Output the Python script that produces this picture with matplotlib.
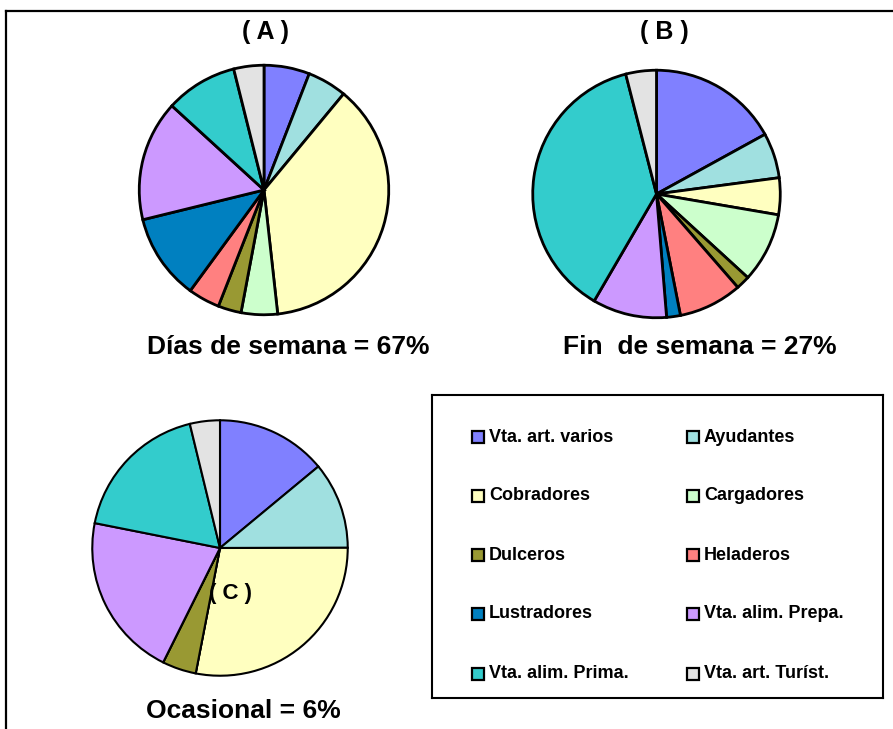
import matplotlib
matplotlib.use('Agg')
import matplotlib.pyplot as plt
from matplotlib.patches import Rectangle
from matplotlib.lines import Line2D

plt.rcParams['font.family'] = ['Liberation Sans', 'DejaVu Sans']
plt.rcParams['font.weight'] = 'bold'

# categorias y colores (orden de la leyenda)
categorias = ['Vta. art. varios', 'Ayudantes', 'Cobradores', 'Cargadores',
              'Dulceros', 'Heladeros', 'Lustradores', 'Vta. alim. Prepa.',
              'Vta. alim. Prima.', 'Vta. art. Turíst.']
colores = ['#8080FF', '#A0E0E0', '#FFFFC0', '#CCFFCC', '#999933',
           '#FF8080', '#0080C0', '#CC99FF', '#33CCCC', '#E3E3E3']

# porcentajes
dias_semana = [5.9, 5.1, 37.2, 4.7, 3.0, 4.1, 11.1, 15.6, 9.3, 3.9]
fin_semana = [17.0, 5.9, 4.8, 9.1, 1.8, 8.3, 1.8, 9.7, 37.6, 4.0]
ocasional = [14.0, 11.0, 28.1, 0.0, 4.3, 0.0, 0.0, 20.8, 18.1, 3.8]

titulos = ['Días de semana = 67%', 'Fin  de semana = 27%', 'Ocasional = 6%']
letras = ['( A )', '( B )', '( C )']

W, H = 893, 729
fig = plt.figure(figsize=(W / 100, H / 100), dpi=100)


def px_axes(cx, cy, r):
    # ejes cuadrados centrados en (cx, cy) en pixeles desde arriba
    return fig.add_axes([(cx - r) / W, (H - cy - r) / H, 2 * r / W, 2 * r / H])


def dibujar_pie(valores, cx, cy, r, lw):
    ax = px_axes(cx, cy, r)
    ax.pie(valores, colors=colores, startangle=90, counterclock=False,
           wedgeprops=dict(edgecolor='black', linewidth=lw))
    ax.set_xlim(-1.01, 1.01)
    ax.set_ylim(-1.01, 1.01)
    ax.set_aspect('equal')
    ax.axis('off')
    return ax


dibujar_pie(dias_semana, 264, 190, 126, 2.0)
dibujar_pie(fin_semana, 656.5, 194, 125, 2.0)
dibujar_pie(ocasional, 220, 548, 129, 1.5)

# titulos
fig.text(288 / W, 1 - 347 / H, titulos[0], fontsize=19, ha='center', va='center')
fig.text(700 / W, 1 - 347 / H, titulos[1], fontsize=19, ha='center', va='center')
fig.text(243 / W, 1 - 711 / H, titulos[2], fontsize=19, ha='center', va='center')

fig.text(266 / W, 1 - 32 / H, letras[0], fontsize=18, ha='center', va='center')
fig.text(664 / W, 1 - 32 / H, letras[1], fontsize=18, ha='center', va='center')
fig.text(230 / W, 1 - 593 / H, letras[2], fontsize=16, ha='center', va='center')

# leyenda en recuadro
lx0, ly0, lx1, ly1 = 432, 395, 883, 698
axl = fig.add_axes([lx0 / W, (H - ly1) / H, (lx1 - lx0) / W, (ly1 - ly0) / H])
axl.set_xlim(0, lx1 - lx0)
axl.set_ylim(ly1 - ly0, 0)
axl.set_xticks([])
axl.set_yticks([])
for s in axl.spines.values():
    s.set_linewidth(1.5)
    s.set_color('black')

filas = [42, 101, 160, 219, 279]
columnas = [40, 255]
for i, (cat, col) in enumerate(zip(categorias, colores)):
    fx = columnas[i % 2]
    fy = filas[i // 2]
    axl.add_patch(Rectangle((fx, fy - 6), 12, 12, facecolor=col,
                            edgecolor='black', linewidth=1.6))
    axl.text(fx + 17, fy, cat, fontsize=13, ha='left', va='center')

# marco de la figura
fig.add_artist(Line2D([6 / W, 1], [1 - 11 / H, 1 - 11 / H], color='black', lw=1.6))
fig.add_artist(Line2D([6 / W, 6 / W], [0, 1 - 11 / H], color='black', lw=1.6))

fig.savefig('out.png', dpi=100)
